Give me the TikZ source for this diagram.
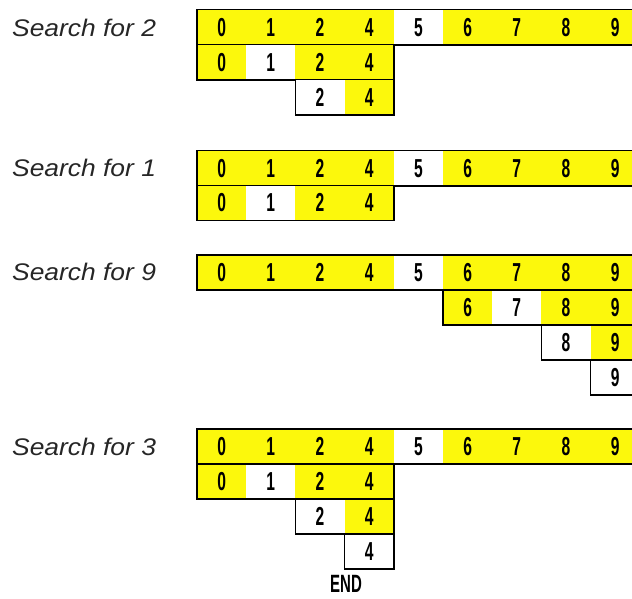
\documentclass[tikz,border=0pt]{standalone}
\usepackage{fontspec}
\setmainfont{Liberation Sans}
\newfontfamily\numfont{Liberation Sans}[FakeStretch=0.6]
\newfontfamily\labfont{Liberation Sans}[FakeStretch=1.1]
\definecolor{hiyel}{RGB}{252,248,12}
\tikzset{
  cell/.style={inner sep=0pt, minimum width=49.2pt, minimum height=34.8pt,
    font=\numfont\bfseries\fontsize{26}{28}\selectfont},
  rowline/.style={draw=black, line width=1.4pt},
  label/.style={anchor=west, inner sep=0pt,
    font=\labfont\itshape\fontsize{24}{28}\selectfont, text=black!85},
  endlabel/.style={inner sep=0pt, font=\numfont\bfseries\fontsize{25}{28}\selectfont}
}
% #1 prefix, #2 top y, #3 start column, #4 last index, #5 list digit/fill
\newcommand\cellrow[5]{%
  \foreach \d/\f [count=\k from 0] in {#5} {
    \node[cell, fill=\f] (#1-\k) at ({197+49.2*(#3+\k)+24.6},{#2+17.4}) {\d};
  }
  \draw[rowline] (#1-0.north west) rectangle (#1-#4.south east);
}
\begin{document}
\begin{tikzpicture}[x=1pt,y=-1pt]
\clip (0,0) rectangle (632,599);
\fill[white] (0,0) rectangle (632,599);
% Search for 2
\node[label] (l2) at (12,28) {Search for 2};
\cellrow{a1}{10}{0}{8}{0/hiyel,1/hiyel,2/hiyel,4/hiyel,5/white,6/hiyel,7/hiyel,8/hiyel,9/hiyel}
\cellrow{a2}{45}{0}{3}{0/hiyel,1/white,2/hiyel,4/hiyel}
\cellrow{a3}{80}{2}{1}{2/white,4/hiyel}
% Search for 1
\node[label] (l1) at (12,168) {Search for 1};
\cellrow{b1}{151}{0}{8}{0/hiyel,1/hiyel,2/hiyel,4/hiyel,5/white,6/hiyel,7/hiyel,8/hiyel,9/hiyel}
\cellrow{b2}{185.5}{0}{3}{0/hiyel,1/white,2/hiyel,4/hiyel}
% Search for 9
\node[label] (l9) at (12,272) {Search for 9};
\cellrow{c1}{255}{0}{8}{0/hiyel,1/hiyel,2/hiyel,4/hiyel,5/white,6/hiyel,7/hiyel,8/hiyel,9/hiyel}
\cellrow{c2}{290}{5}{3}{6/hiyel,7/white,8/hiyel,9/hiyel}
\cellrow{c3}{325}{7}{1}{8/white,9/hiyel}
\cellrow{c4}{360}{8}{0}{9/white}
% Search for 3
\node[label] (l3) at (12,447) {Search for 3};
\cellrow{d1}{429}{0}{8}{0/hiyel,1/hiyel,2/hiyel,4/hiyel,5/white,6/hiyel,7/hiyel,8/hiyel,9/hiyel}
\cellrow{d2}{464}{0}{3}{0/hiyel,1/white,2/hiyel,4/hiyel}
\cellrow{d3}{499}{2}{1}{2/white,4/hiyel}
\cellrow{d4}{534}{3}{0}{4/white}
\node[endlabel] (end) at (346,584) {END};
\end{tikzpicture}
\end{document}
